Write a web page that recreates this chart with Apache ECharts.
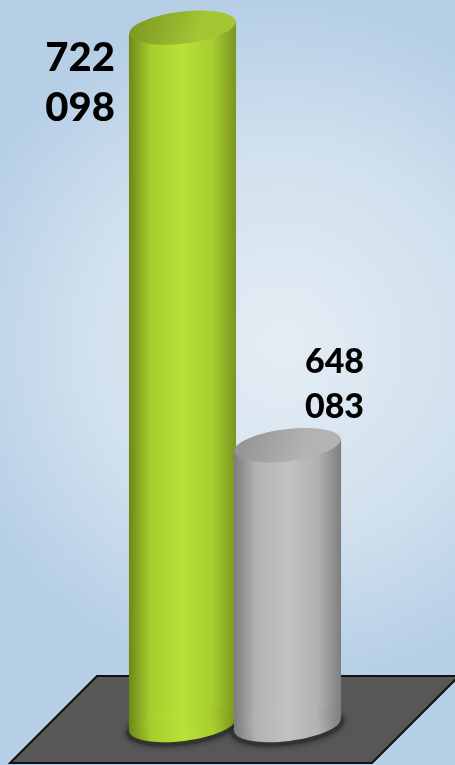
<!DOCTYPE html>
<html>
<head>
<meta charset="utf-8">
<script src="https://cdn.jsdelivr.net/npm/echarts@6/dist/echarts.min.js"></script>
<style>
  html, body { margin: 0; padding: 0; }
  #chart { width: 455px; height: 765px; }
</style>
</head>
<body>
<div id="chart"></div>
<script>
// data
const categories = ['Série A', 'Série B'];
const values = [722098, 648083];
const axisMin = 598500;
const axisMax = 727000;

// colours of each cylinder
const palettes = [
    { dark: '#6c8818', mid: '#a6cd2f', light: '#b8e236', edge: '#7b961f', top0: '#7a9520', top1: '#a4c534' },
    { dark: '#7c7c7c', mid: '#b2b2b2', light: '#c2c2c2', edge: '#7e7e7e', top0: '#909090', top1: '#b3b3b3' }
];

function formatValue(v) {
    const s = String(v);
    return s.slice(0, s.length - 3) + '\n' + s.slice(-3);
}

function bodyGradient(p) {
    return new echarts.graphic.LinearGradient(0, 0, 1, 0, [
        { offset: 0, color: p.dark },
        { offset: 0.2, color: p.mid },
        { offset: 0.5, color: p.light },
        { offset: 0.78, color: p.mid },
        { offset: 1, color: p.edge }
    ]);
}

function renderCylinder(params, api) {
    const idx = params.dataIndex;
    const top = api.coord([api.value(0), api.value(1)]);
    const base = api.coord([api.value(0), axisMin]);
    const band = api.size([1, 0])[0];
    const hw = band * 0.51;
    const ry = 16;
    const tilt = 0.12;
    const dy = hw * Math.sin(tilt);
    const cx = top[0];
    const p = palettes[idx];

    // label placement: first one beside the bar, second one above it
    let label;
    if (idx === 0) {
        label = {
            type: 'text', x: cx - hw - 14, y: top[1] + 55,
            style: { text: formatValue(values[idx]), fontFamily: 'Lato', fontWeight: 900, fontSize: 40,
                lineHeight: 50, align: 'right', verticalAlign: 'middle', fill: '#000' }
        };
    } else {
        label = {
            type: 'text', x: cx + 47, y: top[1] - 61,
            style: { text: formatValue(values[idx]), fontFamily: 'Lato', fontWeight: 900, fontSize: 34,
                lineHeight: 45, align: 'center', verticalAlign: 'middle', fill: '#000' }
        };
    }

    return {
        type: 'group',
        children: [
            {
                type: 'group', x: cx, y: base[1] + 2, rotation: tilt,
                children: [{
                    type: 'ellipse', shape: { cx: 0, cy: 0, rx: hw + 3, ry: ry + 2 },
                    style: { fill: '#333', shadowBlur: 6, shadowColor: 'rgba(0,0,0,0.6)' }
                }]
            },
            {
                type: 'polygon',
                shape: { points: [[cx - hw, top[1] + dy], [cx + hw, top[1] - dy], [cx + hw, base[1] - dy], [cx - hw, base[1] + dy]] },
                style: { fill: bodyGradient(p) }
            },
            {
                type: 'group', x: cx, y: base[1], rotation: tilt,
                children: [{
                    type: 'ellipse', shape: { cx: 0, cy: 0, rx: hw, ry: ry },
                    style: { fill: bodyGradient(p) }
                }]
            },
            {
                type: 'group', x: cx, y: top[1], rotation: tilt,
                children: [{
                    type: 'ellipse', shape: { cx: 0, cy: 0, rx: hw, ry: ry },
                    style: {
                        fill: new echarts.graphic.LinearGradient(0, 0, 0.6, 1, [
                            { offset: 0, color: p.top0 },
                            { offset: 1, color: p.top1 }
                        ])
                    }
                }]
            },
            label
        ]
    };
}

const chart = echarts.init(document.getElementById('chart'));

chart.setOption({
    animation: false,
    graphic: [
        {
            type: 'rect', z: -10, left: 0, top: 0,
            shape: { width: 455, height: 765 },
            style: {
                fill: new echarts.graphic.RadialGradient(0.62, 0.45, 0.75, [
                    { offset: 0, color: '#e4edf5' },
                    { offset: 0.55, color: '#d2e1ee' },
                    { offset: 1, color: '#b6cfe6' }
                ])
            }
        },
        {
            type: 'polygon', z: -5,
            shape: { points: [[97, 676], [459, 676], [372, 763], [10, 763]] },
            style: { fill: '#575757', stroke: '#111', lineWidth: 2 }
        }
    ],
    grid: { left: 130, right: 115, top: 0, bottom: 40 },
    xAxis: {
        type: 'category',
        data: categories,
        show: false
    },
    yAxis: {
        type: 'value',
        min: axisMin,
        max: axisMax,
        show: false
    },
    series: [{
        type: 'custom',
        renderItem: renderCylinder,
        data: values.map((v, i) => [i, v])
    }]
});

window.addEventListener('resize', () => chart.resize());
</script>
</body>
</html>
